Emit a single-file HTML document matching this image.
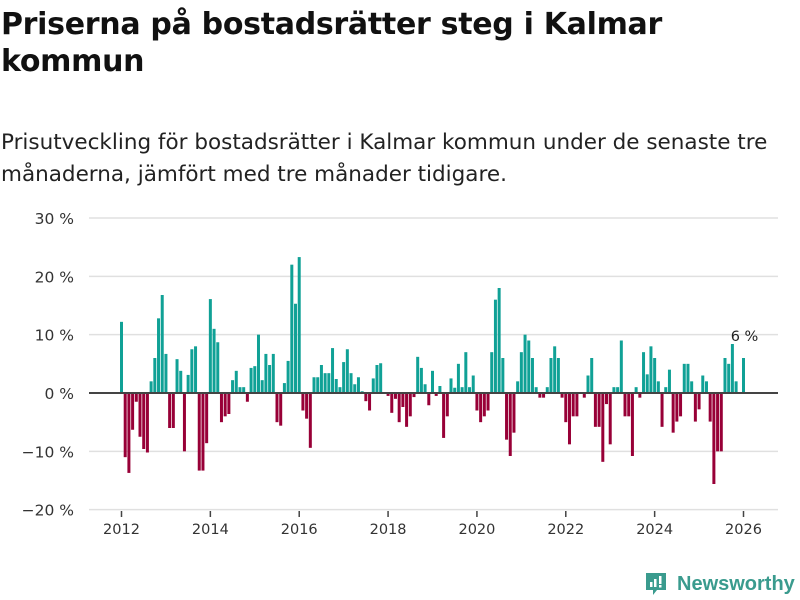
<!DOCTYPE html>
<html><head><meta charset="utf-8"><style>
body{margin:0;background:#fff;width:800px;height:600px;overflow:hidden;font-family:"DejaVu Sans","Liberation Sans",sans-serif;}
h1{position:absolute;left:1px;top:6px;margin:0;font-size:30px;line-height:37px;font-weight:bold;color:#111;width:700px;letter-spacing:-0.3px}
.sub{position:absolute;left:1px;top:127px;margin:0;font-size:21.5px;line-height:32px;color:#222;width:795px;letter-spacing:0px}
</style></head><body>
<h1>Priserna på bostadsrätter steg i Kalmar kommun</h1>
<p class="sub">Prisutveckling för bostadsrätter i Kalmar kommun under de senaste tre månaderna, jämfört med tre månader tidigare.</p>
<svg id="chart" width="800" height="600" style="position:absolute;left:0;top:0" xmlns="http://www.w3.org/2000/svg"></svg>
<div style="position:absolute;left:645px;top:569px;height:30px;display:flex;align-items:center">
<svg width="22" height="24"><path d="M1 1h20v17H12l-4 5v-5H1z" fill="#3a9b8e"/><rect x="5" y="10" width="2.5" height="5" fill="#fff"/><rect x="9" y="7" width="2.5" height="8" fill="#fff"/><rect x="14" y="4" width="2.5" height="8" fill="#fff"/><rect x="14" y="13" width="2.5" height="2.5" fill="#fff"/></svg>
<span style="margin-left:10px;font-size:20px;color:#3a9b8e;font-weight:bold;font-family:'Liberation Sans',sans-serif">Newsworthy</span></div>
<script>
const values=[12.2,-11,-13.7,-6.3,-1.5,-7.5,-9.6,-10.2,2,6,12.8,16.8,
6.7,-6,-6,5.8,3.8,-10,3.1,7.5,8,-13.3,-13.3,-8.6,
16.1,11,8.7,-5,-4,-3.6,2.2,3.8,1,1,-1.5,4.3,
4.6,10,2.2,6.7,4.8,6.7,-5,-5.6,1.7,5.5,22,15.3,
23.3,-3,-4.4,-9.4,2.7,2.7,4.8,3.4,3.4,7.7,2.4,1,
5.3,7.5,3.4,1.5,2.7,0.3,-1.4,-3,2.5,4.8,5.1,0,
-0.5,-3.4,-1,-5,-2.4,-5.8,-4,-0.7,6.2,4.3,1.5,-2.1,
3.8,-0.5,1.2,-7.7,-4,2.5,0.9,5,1,7,1,3,
-3,-5,-4,-3,7,16,18,6,-8,-10.8,-6.8,2,
7,10,9,6,1,-0.8,-0.8,1,6,8,6,-0.8,
-5,-8.8,-4,-4,0,-0.8,3,6,-5.8,-5.8,-11.8,-1.9,
-8.8,1,1,9,-4,-4,-10.8,1,-0.8,7,3.2,8,
6,2,-5.8,1,4,-6.8,-4.9,-4,5,5,2,
-4.9,-2.8,3,2,-4.9,-15.6,-10,-10,6,5,8.4,2,0,6];
const yTicks=[30,20,10,0,-10,-20];
const yTickLabels=["30 %","20 %","10 %","0 %","\u221210 %","\u221220 %"];
const xYears=[2012,2014,2016,2018,2020,2022,2024,2026];
const startYear=2012;
const lastLabel="6 %";
const svg=document.getElementById('chart');
const NS='http://www.w3.org/2000/svg';
const x=m=>121.5+m*(622/168);
const y=v=>393-v*(175/30);
function mk(t,a){const e=document.createElementNS(NS,t);for(const k in a)e.setAttribute(k,a[k]);svg.appendChild(e);return e;}
yTicks.forEach((t,i)=>{
 if(t!==0){const g=mk('line',{x1:89,x2:778,y1:y(t),y2:y(t),stroke:'#e0e0e0','stroke-width':1.5});
 
 }
 const l=mk('text',{x:74,y:y(t)+6,'text-anchor':'end','font-size':15.5,fill:'#333','font-family':'DejaVu Sans, sans-serif'});
 l.textContent=yTickLabels[i];
 
 
});
values.forEach((v,i)=>{
 const r=mk('rect',{x:x(i)-1.5,width:3,y:v>=0?y(v):y(0),height:Math.abs(y(v)-y(0)),fill:v>=0?'#10a196':'#980037'});
 
 
});
const z=mk('line',{x1:89,x2:778,y1:y(0),y2:y(0),stroke:'#444','stroke-width':2});


xYears.forEach(yr=>{
 const px=x((yr-startYear)*12);
 const t=mk('line',{x1:px,x2:px,y1:511,y2:517,stroke:'#444','stroke-width':1.5});
 
 
 const l=mk('text',{x:px,y:534,'text-anchor':'middle','font-size':14.5,fill:'#333','font-family':'DejaVu Sans, sans-serif'});
 l.textContent=yr;
 
 
});
const li=values.length-1;
const lab=mk('text',{x:x(li)+1,y:y(Math.max(values[li],8.4))-3,'text-anchor':'middle','font-size':14.5,fill:'#222','font-family':'DejaVu Sans, sans-serif'});
lab.textContent=lastLabel;


</script>
</body></html>
